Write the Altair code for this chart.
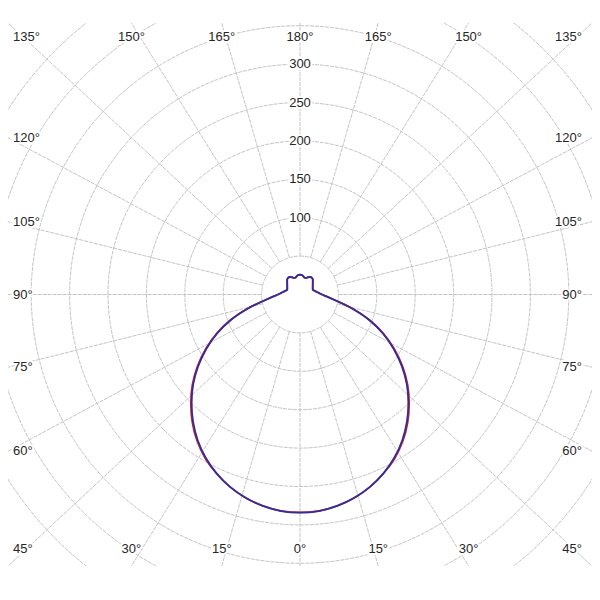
import altair as alt
import numpy as np
import pandas as pd

# ---- data (cd per angle, 5 degree steps) ----
angles = [0, 5, 10, 15, 20, 25, 30, 35, 40, 45, 50, 55, 60, 65, 70, 75, 80, 85, 90,
          95, 100, 105, 110, 115, 120, 125, 130, 135, 140, 145, 150, 155, 160, 165, 170, 175, 180]
blue_cd = [284, 283, 279.5, 274, 266.5, 257, 245.5, 232, 216.5, 199.5, 181.5, 161.5, 140.5,
           118.5, 95, 70, 48.5, 36, 28.5, 24.5, 21.5, 19.3, 17.8, 18.4, 19.2, 20.3, 21.8, 23.6,
           25.9, 26.8, 26.3, 24.8, 23, 22.8, 24.2, 25.6, 26]
red_cd = [283.8, 282.8, 279.3, 273.9, 266.5, 257.2, 246.5, 233.3, 218, 201, 183, 163, 141.8,
          119.6, 96, 70.8, 48.8, 36, 28.4, 24.4, 21.4, 19.2, 17.7, 18.3, 19.1, 20.2, 21.7,
          23.5, 25.8, 26.7, 26.2, 24.7, 22.9, 22.7, 24.1, 25.5, 25.9]
ring_values = [50, 100, 150, 200, 250, 300, 350, 400, 450]
ring_labels = [100, 150, 200, 250, 300]
ray_angles = list(range(0, 360, 15))
label_angles = [0, 15, 30, 45, 60, 75, 90, 105, 120, 135, 150, 165, 180]

# ---- layout ----
PX = 0.768          # pixels per cd
W, H = 584, 543     # plot area
XH = W / 2 / PX     # half width in cd
YH = H / 2 / PX     # half height in cd
LEFT_IN = (13 - 300) / PX
RIGHT_IN = (582 - 300) / PX
TOP_IN = (294.5 - 37) / PX
BOT_IN = -(549 - 294.5) / PX

xs = alt.Scale(domain=[-XH, XH], nice=False, zero=False)
ys = alt.Scale(domain=[-YH, YH], nice=False, zero=False)

# rings
rows = []
t = np.linspace(0, 2 * np.pi, 241)
for r in ring_values:
    for i, a in enumerate(t):
        rows.append({"ring": r, "o": i, "x": r * np.sin(a), "y": r * np.cos(a)})
rings = pd.DataFrame(rows)

# rays (drawn in box-normalised direction)
ray_rows = []
for a in ray_angles:
    rad = np.radians(a)
    dx, dy = np.sin(rad) * XH, -np.cos(rad) * YH
    n = np.hypot(dx, dy)
    ux, uy = dx / n, dy / n
    tx = XH / abs(ux) if abs(ux) > 1e-9 else 1e9
    ty = YH / abs(uy) if abs(uy) > 1e-9 else 1e9
    te = min(tx, ty)
    ray_rows.append({"x": 50 * ux, "y": 50 * uy, "x2": te * ux, "y2": te * uy})
rays = pd.DataFrame(ray_rows)

# angle labels
lab_rows = []
for a in label_angles:
    sides = [1] if a in (0, 180) else [-1, 1]
    for s in sides:
        rad = np.radians(a)
        dx, dy = s * np.sin(rad) * XH, -np.cos(rad) * YH
        n = np.hypot(dx, dy)
        ux, uy = dx / n, dy / n
        tx = XH / abs(ux) if abs(ux) > 1e-9 else 1e9
        ty = YH / abs(uy) if abs(uy) > 1e-9 else 1e9
        px, py = min(tx, ty) * ux, min(tx, ty) * uy
        if tx <= ty * (1 + 1e-9) and a not in (0, 180):
            al = "left" if s < 0 else "right"
            lx = LEFT_IN if s < 0 else RIGHT_IN
            ly = min(max(py, BOT_IN), TOP_IN)
        else:
            al = "center"
            lx = px
            ly = TOP_IN if py > 0 else BOT_IN
        lab_rows.append({"x": lx, "y": ly, "t": f"{a}°", "al": al})
labs = pd.DataFrame(lab_rows)

rlabs = pd.DataFrame({"x": [0.0] * len(ring_labels), "y": ring_labels,
                      "t": [str(v) for v in ring_labels]})

# curves
def curve(vals, name):
    out = []
    k = 0
    for a, v in zip(reversed(angles), reversed(vals)):
        rad = np.radians(a)
        out.append({"s": name, "o": k, "x": -v * np.sin(rad), "y": -v * np.cos(rad)}); k += 1
    for a, v in zip(angles[1:], vals[1:]):
        rad = np.radians(a)
        out.append({"s": name, "o": k, "x": v * np.sin(rad), "y": -v * np.cos(rad)}); k += 1
    return pd.DataFrame(out)

red = curve(red_cd, "C0-C180")
blue = curve(blue_cd, "C90-C270")

GRID = "#c4c4c4"
FONT = "Liberation Sans"

ring_layer = alt.Chart(rings).mark_line(color=GRID, strokeWidth=1, strokeDash=[4, 1], clip=True).encode(
    x=alt.X("x:Q", scale=xs, axis=None), y=alt.Y("y:Q", scale=ys, axis=None),
    detail="ring:N", order="o:Q")
ray_layer = alt.Chart(rays).mark_rule(color=GRID, strokeWidth=1, strokeDash=[4, 1], clip=True).encode(
    x=alt.X("x:Q", scale=xs, axis=None), y=alt.Y("y:Q", scale=ys, axis=None),
    x2="x2:Q", y2="y2:Q")

def text_layers(df, align):
    base = alt.Chart(df).encode(x=alt.X("x:Q", scale=xs, axis=None),
                                y=alt.Y("y:Q", scale=ys, axis=None), text="t:N")
    halo = base.mark_text(align=align, baseline="middle", font=FONT, fontSize=13,
                          stroke="white", strokeWidth=4, color="white")
    txt = base.mark_text(align=align, baseline="middle", font=FONT, fontSize=13,
                         color="#262626")
    return [halo, txt]

text = []
for al in ["left", "center", "right"]:
    sub = labs[labs["al"] == al]
    text += text_layers(sub, al)
text += text_layers(rlabs, "center")

def curve_layer(df, color):
    return alt.Chart(df).mark_line(color=color, strokeWidth=1.8, interpolate="catmull-rom").encode(
        x=alt.X("x:Q", scale=xs, axis=None), y=alt.Y("y:Q", scale=ys, axis=None), order="o:Q")

chart = alt.layer(ring_layer, ray_layer, *text,
                  curve_layer(red, "#d81e1e"), curve_layer(blue, "#2e2e9c")).properties(
    width=W, height=H, padding={"left": 0, "top": 15, "right": 0, "bottom": 0}
).configure_view(stroke=None)

chart.save("out.html", embed_options={"renderer": "svg", "actions": False})
